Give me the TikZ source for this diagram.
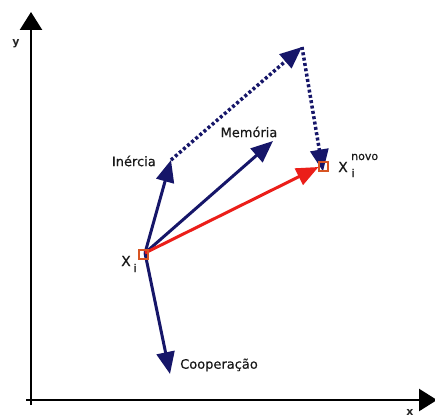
\documentclass[tikz,border=0pt]{standalone}
\usepackage{fontspec}
\setmainfont{DejaVu Sans}
\newfontfamily\lblfont[FakeBold=0.4]{DejaVu Sans}
\usetikzlibrary{arrows.meta}
\definecolor{navy}{RGB}{22,22,105}
\definecolor{vred}{RGB}{235,30,25}
\definecolor{sqcol}{RGB}{215,85,35}
\tikzset{
  vec/.style={line width=3pt,-{Triangle[length=22pt,width=18pt]}},
  dotvec/.style={navy,line width=3.5pt,dash pattern=on 3pt off 2.4pt,-{Triangle[length=22pt,width=18pt]}},
  axis/.style={black,line width=2.5pt,-{Triangle[length=18pt,width=22pt]}},
  lbl/.style={font=\lblfont\fontsize{13}{15}\selectfont,text=black!90,inner sep=0pt},
  sml/.style={font=\lblfont\fontsize{11}{13}\selectfont,text=black!90,inner sep=0pt},
  sq/.style={draw=sqcol,line width=2pt,minimum size=9pt,inner sep=0pt,fill=none},
}
\begin{document}
\begin{tikzpicture}[x=1pt,y=-1pt]
\useasboundingbox (0,0) rectangle (435,419);
% axes
\coordinate (o1) at (31,405);
\coordinate (ytip) at (31,12);
\coordinate (o2) at (26,400);
\coordinate (xtip) at (437,400);
\draw[axis] (o1) -- (ytip);
\draw[axis] (o2) -- (xtip);
\node[font=\fontsize{11}{12}\bfseries\selectfont,text=black!85] (ylab) at (16,44) {y};
\node[font=\fontsize{11}{12}\bfseries\selectfont,text=black!85] (xlab) at (410,412) {x};
% points
\coordinate (xi) at (145,253);
\coordinate (iner) at (171,160);
\coordinate (top) at (302,47);
\coordinate (mem) at (273,141);
\coordinate (coop) at (170,374);
\coordinate (nov) at (323,167);
% dotted path
\draw[dotvec] (iner) -- (top);
\draw[dotvec] (top) -- ([yshift=-4.5pt]nov);
% vectors
\draw[vec,navy] (xi) -- (iner);
\draw[vec,navy] (xi) -- (mem);
\draw[vec,navy] (xi) -- (coop);
\draw[vec,vred] (xi) -- ([xshift=-4.5pt]nov);
% squares
\node[sq] (sqxi) at (143,254) {};
\node[sq] (sqnov) at (323,167) {};
% labels
\node[lbl,anchor=east] (linr) at (156,161) {Inércia};
\node[lbl] (lmem) at (249,132) {Memória};
\node[lbl,anchor=west] (lcoop) at (180,365) {Cooperação};
\node[lbl,font=\lblfont\fontsize{14}{16}\selectfont] (lxi) at (126,261) {X};
\node[sml] (lxii) at (135,268) {i};
\node[lbl,font=\lblfont\fontsize{14}{16}\selectfont] (lxn) at (343,167) {X};
\node[sml,anchor=west] (lnovo) at (351,157) {novo};
\node[sml] (lni) at (353,173) {i};
\end{tikzpicture}
\end{document}
